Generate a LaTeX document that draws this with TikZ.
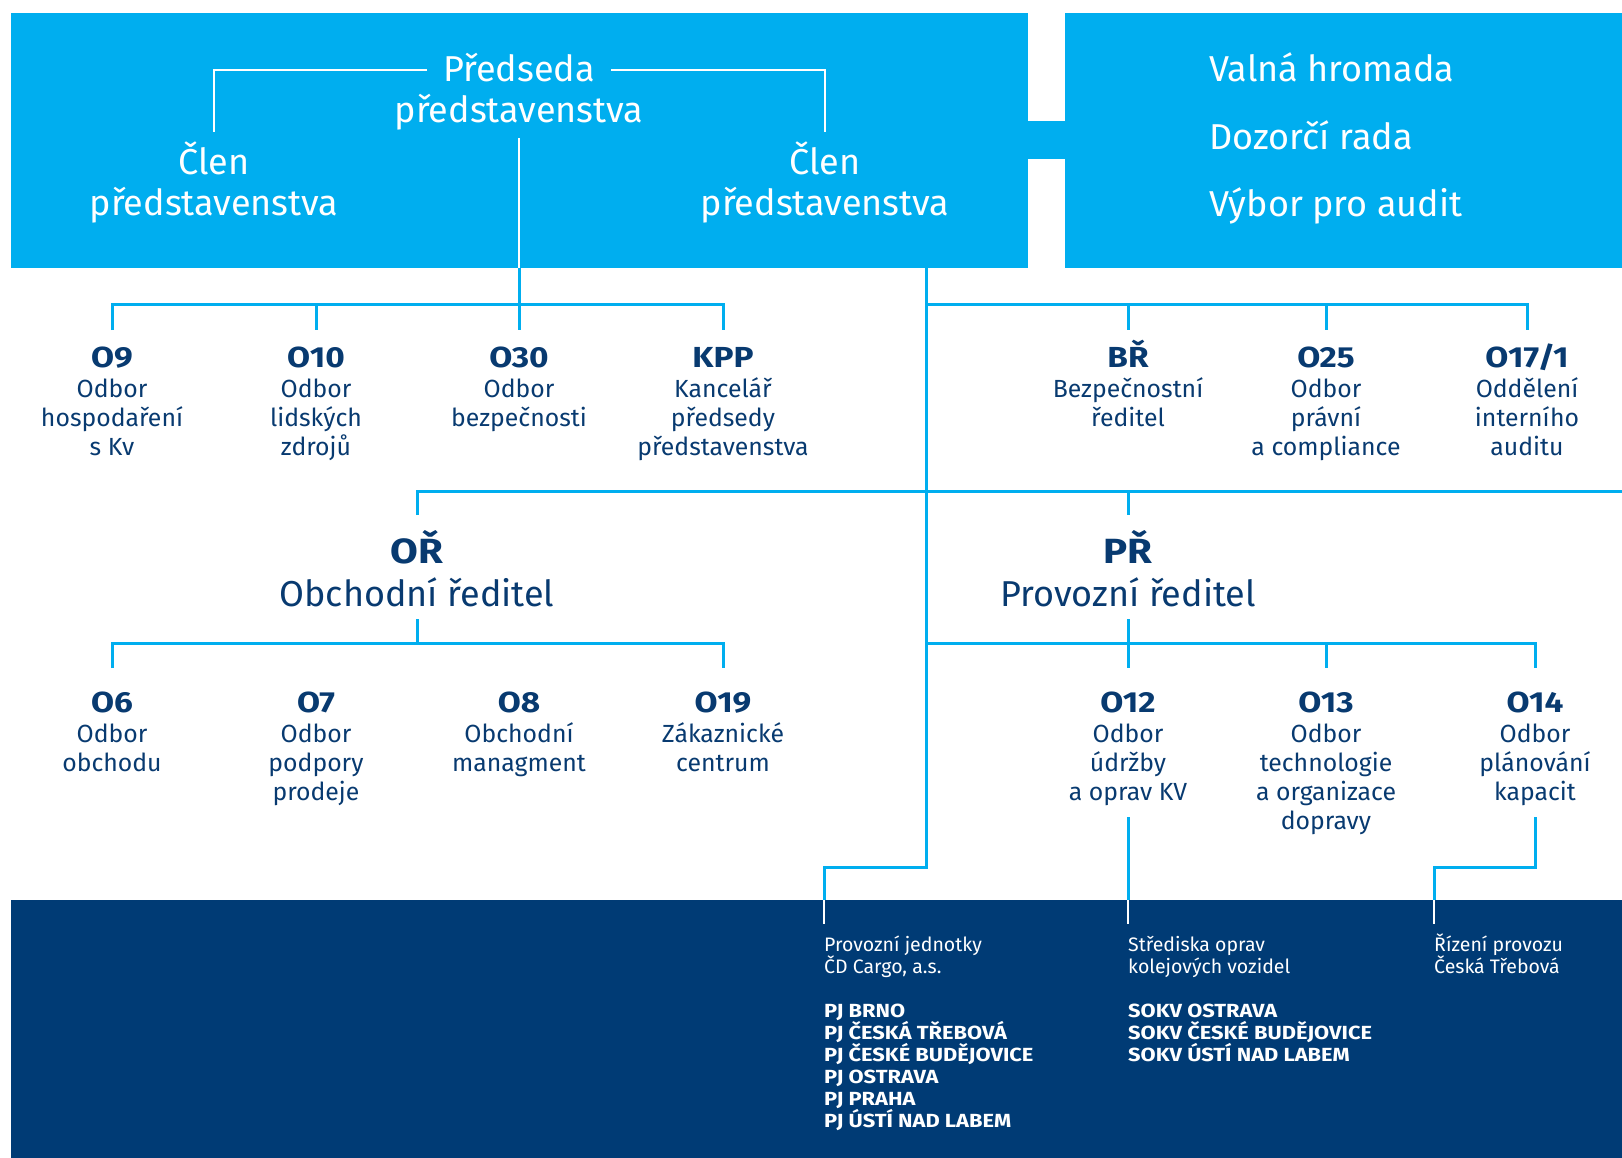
\documentclass[tikz,border=0pt]{standalone}
\usepackage{fontspec}
\setmainfont{Fira Sans}
\newfontfamily\codefont{Fira Sans}[FakeStretch=1.15]
\definecolor{cdcyan}{RGB}{0,174,239}
\definecolor{cdnavy}{RGB}{0,59,117}
\definecolor{cdtext}{RGB}{8,58,112}
\newcommand\sublines[6]{% name, x, y, style, step, list
  \foreach \t [count=\i] in {#6}{\node[#4] (#1-\i) at (#2,{#3+#5*(\i-1)}) {\t};}}
\tikzset{
  big/.style={anchor=base, inner sep=0pt, text=white, font=\fontsize{36}{41}\selectfont},
  bigw/.style={big, anchor=base west},
  dirt/.style={big, text=cdtext},
  code/.style={anchor=base, inner sep=0pt, text=cdtext, font=\codefont\bfseries\fontsize{29}{30}\selectfont},
  head/.style={code, font=\codefont\bfseries\fontsize{35}{36}\selectfont},
  sub/.style={anchor=base, inner sep=0pt, text=cdtext, font=\fontsize{24.8}{29}\selectfont},
  small/.style={anchor=base west, inner sep=0pt, text=white, font=\fontsize{19.5}{22}\selectfont},
  smallb/.style={small, font=\codefont\bfseries\fontsize{19}{22}\selectfont},
  conn/.style={draw=cdcyan, line width=3pt},
  wline/.style={draw=white, line width=2.6pt},
}
\begin{document}
\begin{tikzpicture}[x=1pt,y=-1pt]
\useasboundingbox (0,0) rectangle (1622,1158);
% boxes
\fill[cdcyan] (11,13) rectangle (1028,268);
\fill[cdcyan] (1065,13) rectangle (1622,268);
\fill[cdcyan] (1027,121) rectangle (1066,159);
\fill[cdnavy] (11,900) rectangle (1622,1158);

% top box texts
\node[big] (chair1) at (519,82) {Předseda};
\node[big] (chair2) at (519,123) {představenstva};
\node[big] (mem1a) at (214,175) {Člen};
\node[big] (mem1b) at (214,216) {představenstva};
\node[big] (mem2a) at (825,175) {Člen};
\node[big] (mem2b) at (825,216) {představenstva};
\node[bigw] (vh) at (1209,82) {Valná hromada};
\node[bigw] (dr) at (1209,150) {Dozorčí rada};
\node[bigw] (vpa) at (1209,217) {Výbor pro audit};

% row 2
\node[code] (o9) at (112,367) {O9};
\node[code] (o10) at (316,367) {O10};
\node[code] (o30) at (519,367) {O30};
\node[code] (kpp) at (723,367) {KPP};
\node[code] (br) at (1128,367) {BŘ};
\node[code] (o25) at (1326,367) {O25};
\node[code] (o171) at (1527,367) {O17/1};
\sublines{o9t}{112}{397}{sub}{29}{Odbor,hospodaření,s Kv}
\sublines{o10t}{316}{397}{sub}{29}{Odbor,lidských,zdrojů}
\sublines{o30t}{519}{397}{sub}{29}{Odbor,bezpečnosti}
\sublines{kppt}{723}{397}{sub}{29}{Kancelář,předsedy,představenstva}
\sublines{brt}{1128}{397}{sub}{29}{Bezpečnostní,ředitel}
\sublines{o25t}{1326}{397}{sub}{29}{Odbor,právní,a compliance}
\sublines{o171t}{1527}{397}{sub}{29}{Oddělení,interního,auditu}

% row 3
\node[head] (or) at (417,563) {OŘ};
\node[dirt] (ort) at (417,606) {Obchodní ředitel};
\node[head] (pr) at (1128,563) {PŘ};
\node[dirt] (prt) at (1128,606) {Provozní ředitel};

% row 4
\node[code] (o6) at (112,712) {O6};
\node[code] (o7) at (316,712) {O7};
\node[code] (o8) at (519,712) {O8};
\node[code] (o19) at (723,712) {O19};
\node[code] (o12) at (1128,712) {O12};
\node[code] (o13) at (1326,712) {O13};
\node[code] (o14) at (1535,712) {O14};
\sublines{o6t}{112}{742}{sub}{29}{Odbor,obchodu}
\sublines{o7t}{316}{742}{sub}{29}{Odbor,podpory,prodeje}
\sublines{o8t}{519}{742}{sub}{29}{Obchodní,managment}
\sublines{o19t}{723}{742}{sub}{29}{Zákaznické,centrum}
\sublines{o12t}{1128}{742}{sub}{29}{Odbor,údržby,a oprav KV}
\sublines{o13t}{1326}{742}{sub}{29}{Odbor,technologie,a organizace,dopravy}
\sublines{o14t}{1535}{742}{sub}{29}{Odbor,plánování,kapacit}

% bottom texts
\node[small] (pj) at (824,951) {Provozní jednotky};
\node[small] (pj2) at (824,973) {ČD Cargo, a.s.};
\sublines{pjl}{824}{1017}{smallb}{22}{PJ BRNO,PJ ČESKÁ TŘEBOVÁ,PJ ČESKÉ BUDĚJOVICE,PJ OSTRAVA,PJ PRAHA,PJ ÚSTÍ NAD LABEM}
\node[small] (so) at (1128,951) {Střediska oprav};
\node[small] (so2) at (1128,973) {kolejových vozidel};
\sublines{sol}{1128}{1017}{smallb}{22}{SOKV OSTRAVA,SOKV ČESKÉ BUDĚJOVICE,SOKV ÚSTÍ NAD LABEM}
\node[small] (rp) at (1434,951) {Řízení provozu};
\node[small] (rp2) at (1434,973) {Česká Třebová};

% helper coordinates
\coordinate (chairL) at (427,70);
\coordinate (chairR) at (611,70);
\coordinate (memL) at (214,132);
\coordinate (memR) at (825,132);
\coordinate (chairB) at (519,138);
\coordinate (boxB) at (519,268);
\coordinate (trunkTop) at (926,268);
\coordinate (trunkBot) at (926,867);
\coordinate (h2) at (0,305);
\coordinate (b2) at (0,330);
\coordinate (h3) at (0,491);
\coordinate (b3) at (0,515);
\coordinate (edge3) at (1622,491);
\coordinate (t4) at (0,619);
\coordinate (h4) at (0,643);
\coordinate (b4) at (0,668);
\coordinate (u5) at (0,817);
\coordinate (k5) at (0,867);
\coordinate (bb) at (0,900);
\coordinate (e5) at (0,924);

% white lines in the top box
\draw[wline] (chairL) -| (memL);
\draw[wline] (chairR) -| (memR);
\draw[wline] (chairB) -- (boxB);

% row 2 connectors
\draw[conn] (boxB) -- (o30 |- b2);
\draw[conn] (o9 |- b2) -- (o9 |- h2) -- (kpp |- h2) -- (kpp |- b2);
\draw[conn] (o10 |- h2) -- (o10 |- b2);
\draw[conn] (trunkTop) -- (trunkBot) -- (pj.west |- k5) -- (pj.west |- bb);
\draw[wline] (pj.west |- bb) -- (pj.west |- e5);
\draw[conn] (trunkTop |- h2) -- (o171 |- h2) -- (o171 |- b2);
\draw[conn] (br |- h2) -- (br |- b2);
\draw[conn] (o25 |- h2) -- (o25 |- b2);

% row 3 connectors
\draw[conn] (or |- b3) -- (or |- h3) -- (edge3);
\draw[conn] (pr |- h3) -- (pr |- b3);

% row 4 connectors
\draw[conn] (or |- t4) -- (or |- h4);
\draw[conn] (o6 |- b4) -- (o6 |- h4) -- (o19 |- h4) -- (o19 |- b4);
\draw[conn] (pr |- t4) -- (pr |- b4);
\draw[conn] (trunkTop |- h4) -- (o14 |- h4) -- (o14 |- b4);
\draw[conn] (o13 |- h4) -- (o13 |- b4);

% to the bottom box
\draw[conn] (o12 |- u5) -- (o12 |- bb);
\draw[wline] (o12 |- bb) -- (o12 |- e5);
\draw[conn] (o14 |- u5) -- (o14 |- k5) -- (rp.west |- k5) -- (rp.west |- bb);
\draw[wline] (rp.west |- bb) -- (rp.west |- e5);
\end{tikzpicture}
\end{document}
